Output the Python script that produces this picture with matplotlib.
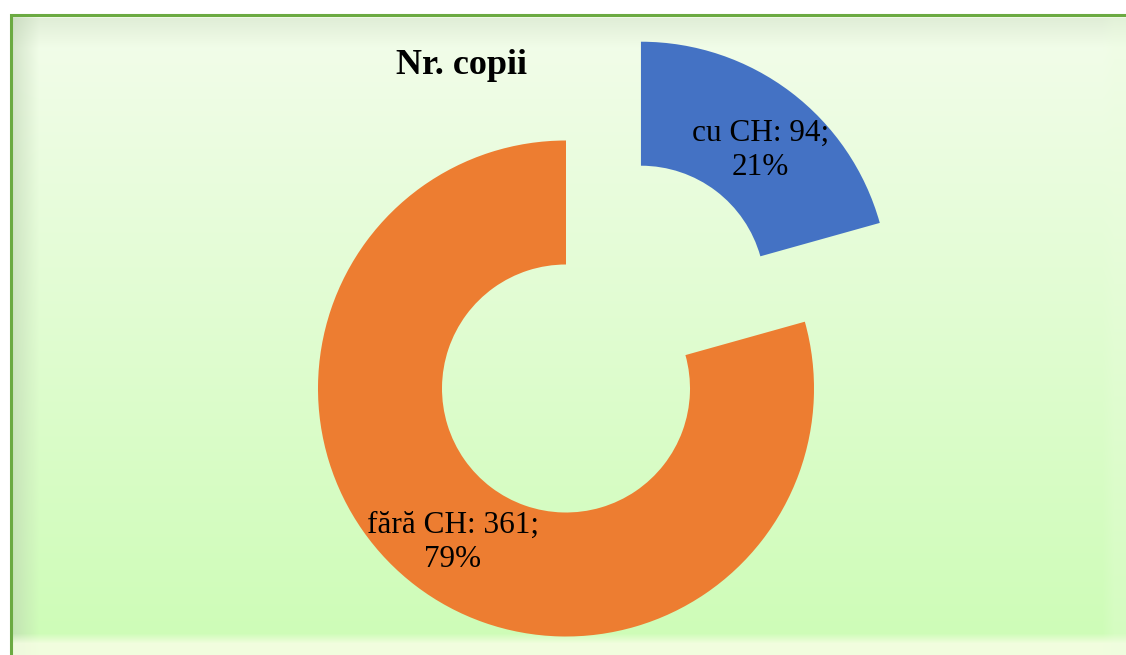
import numpy as np
import matplotlib.pyplot as plt

plt.rcParams['font.family'] = ['Liberation Serif', 'DejaVu Serif']

# data
categories = ["cu CH", "fără CH"]
counts = [94, 361]
colors = ["#4472C4", "#ED7D31"]
title = "Nr. copii"

W, H = 1126, 655
fig = plt.figure(figsize=(W / 100, H / 100), dpi=100, facecolor="white")
ax = fig.add_axes([0, 0, 1, 1])

# background panel with soft gradient + bevel
x0, y0 = 10, 14
pw, ph = W - x0, H - y0
yy = np.arange(ph)[:, None] / (ph - 1)
top = np.array([243, 253, 235]) / 255
bot = np.array([205, 252, 182]) / 255
img = top + (bot - top) * yy[..., None] * np.ones((1, pw, 1))
rows = np.arange(ph)[:, None, None]
cols = np.arange(pw)[None, :, None]
w_top = np.clip(1 - (rows - 4) / 30.0, 0, 1) * 0.6 * (rows >= 4)
img = img * (1 - w_top) + np.array([212, 228, 202]) / 255 * w_top
w_left = np.clip(1 - (cols - 3) / 26.0, 0, 1) * 0.5 * (cols >= 3)
img = img * (1 - w_left) + np.array([185, 205, 175]) / 255 * w_left
w_bot = np.clip((rows - (ph - 22)) / 10.0, 0, 1) * 0.8
img = img * (1 - w_bot) + np.array([250, 254, 232]) / 255 * w_bot
w_right = np.clip((cols - (pw - 24)) / 12.0, 0, 1) * 0.25
img = img * (1 - w_right) + np.array([235, 253, 222]) / 255 * w_right
ax.imshow(img, extent=[x0, W, 0, H - y0], origin="upper", aspect="auto", zorder=0)
ax.plot([x0 + 1, x0 + 1, W], [0, H - y0 - 1, H - y0 - 1], color="#6BAA42", lw=2.2,
        solid_joinstyle="miter", zorder=1)

# donut
cx, cy, R = 566, H - 388.5, 248
wedges, texts, autotexts = ax.pie(
    counts, colors=colors, startangle=90, counterclock=False,
    center=(cx, cy), radius=R, explode=[R * 0.5, 0],
    wedgeprops=dict(width=R * 0.5, linewidth=0),
    autopct="%1.0f%%", pctdistance=0.75,
    textprops=dict(fontsize=22.5, color="black"), frame=True)
ax.set_xlim(0, W)
ax.set_ylim(0, H)
ax.set_aspect("auto")
ax.axis("off")
nudges = [(7, -9), (-1, -6)]
for t, name, v, (dx, dy) in zip(autotexts, categories, counts, nudges):
    pct = 100 * v / sum(counts)
    t.set_text(f"{name}: {v};\n{pct:.0f}%")
    t.set_linespacing(1.25)
    px, py = t.get_position()
    t.set_position((px + dx, py + dy))
    t.set_zorder(5)

ax.text(461, H - 74, title, ha="center", va="baseline", fontsize=26,
        fontweight="bold", zorder=5)

fig.savefig("out.png", dpi=100, facecolor="white")
